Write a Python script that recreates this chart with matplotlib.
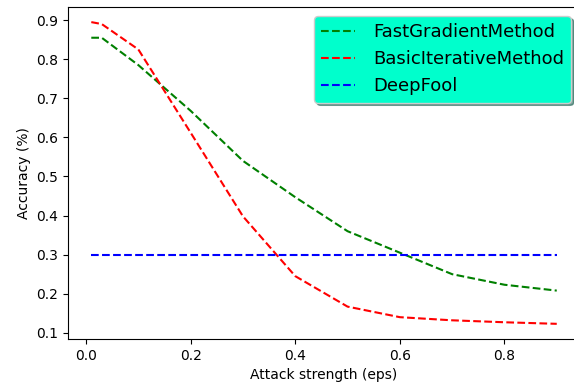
import matplotlib
matplotlib.use("Agg")
import matplotlib.pyplot as plt

eps = [0.01, 0.03, 0.1, 0.2, 0.3, 0.4, 0.5, 0.6, 0.7, 0.8, 0.9]
acc_fgm = [0.855, 0.855, 0.785, 0.668, 0.54, 0.447, 0.36, 0.305, 0.25, 0.223, 0.208]
acc_bim = [0.895, 0.89, 0.825, 0.612, 0.398, 0.245, 0.167, 0.14, 0.132, 0.127, 0.123]
acc_deepfool = [0.3] * len(eps)

fig, ax = plt.subplots(figsize=(5.74, 3.9), dpi=100)
ax.plot(eps, acc_fgm, 'g--', label='FastGradientMethod')
ax.plot(eps, acc_bim, 'r--', label='BasicIterativeMethod')
ax.plot(eps, acc_deepfool, 'b--', label='DeepFool')
ax.set_xlabel('Attack strength (eps)')
ax.set_ylabel('Accuracy (%)')
ax.legend(loc='upper right', shadow=True, fontsize=13, facecolor='#00ffcc', framealpha=1,
          handlelength=1.85, handletextpad=1.0)
# right spine sits just past the image edge, as in the original crop
fig.subplots_adjust(left=0.1185, right=1.0105, top=0.982, bottom=0.131)
fig.savefig('out.png')
